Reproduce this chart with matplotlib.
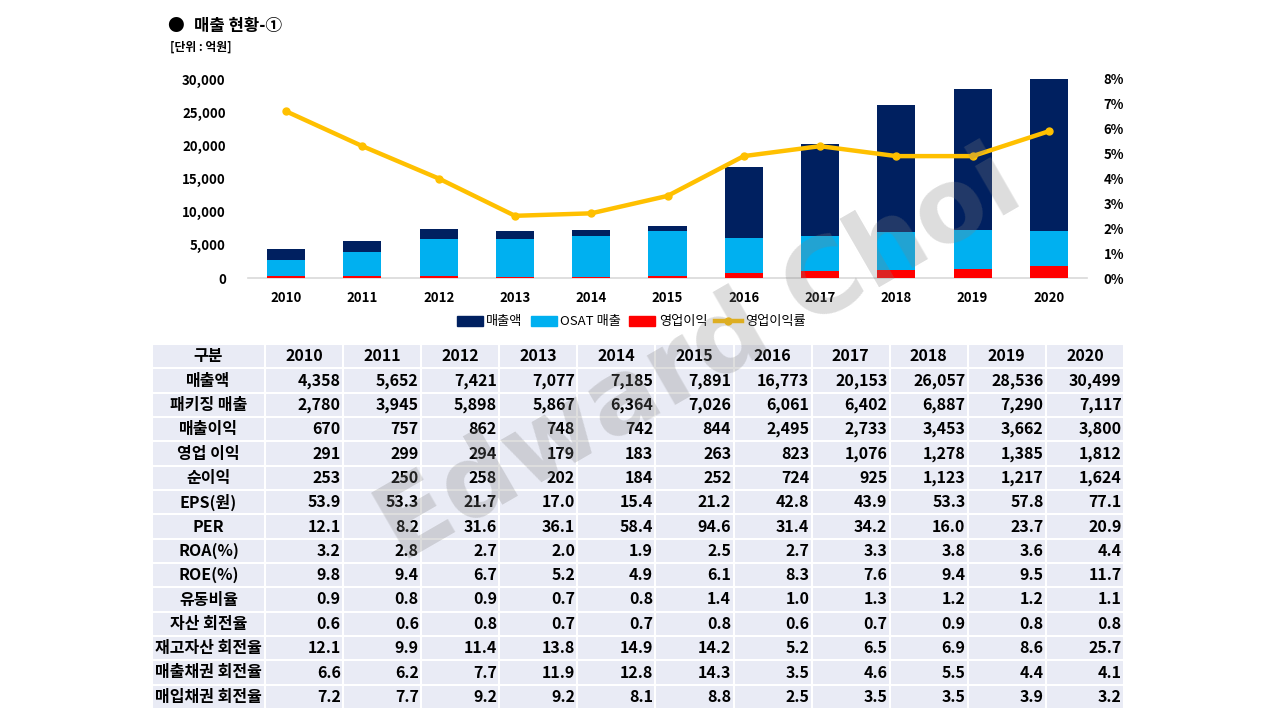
import matplotlib
matplotlib.use('Agg')
import matplotlib.pyplot as plt
from matplotlib.lines import Line2D
from matplotlib.patches import Patch
from matplotlib.ticker import FuncFormatter

plt.rcParams['font.family'] = ['Noto Sans CJK KR', 'DejaVu Sans']

years = ['2010', '2011', '2012', '2013', '2014', '2015', '2016', '2017', '2018', '2019', '2020']
sales = [4358, 5652, 7421, 7077, 7185, 7891, 16773, 20153, 26057, 28536, 30499]
osat_sales = [2780, 3945, 5898, 5867, 6364, 7026, 6061, 6402, 6887, 7290, 7117]
op_profit = [291, 299, 294, 179, 183, 263, 823, 1076, 1278, 1385, 1812]
op_margin = [6.7, 5.3, 4.0, 2.5, 2.6, 3.3, 4.9, 5.3, 4.9, 4.9, 5.9]

table_header = ['구분'] + years
row_labels = ['매출액', '패키징 매출', '매출이익', '영업 이익', '순이익', 'EPS(원)', 'PER',
              'ROA(%)', 'ROE(%)', '유동비율', '자산 회전율', '재고자산 회전율',
              '매출채권 회전율', '매입채권 회전율']
row_values = [
    ['4,358', '5,652', '7,421', '7,077', '7,185', '7,891', '16,773', '20,153', '26,057', '28,536', '30,499'],
    ['2,780', '3,945', '5,898', '5,867', '6,364', '7,026', '6,061', '6,402', '6,887', '7,290', '7,117'],
    ['670', '757', '862', '748', '742', '844', '2,495', '2,733', '3,453', '3,662', '3,800'],
    ['291', '299', '294', '179', '183', '263', '823', '1,076', '1,278', '1,385', '1,812'],
    ['253', '250', '258', '202', '184', '252', '724', '925', '1,123', '1,217', '1,624'],
    ['53.9', '53.3', '21.7', '17.0', '15.4', '21.2', '42.8', '43.9', '53.3', '57.8', '77.1'],
    ['12.1', '8.2', '31.6', '36.1', '58.4', '94.6', '31.4', '34.2', '16.0', '23.7', '20.9'],
    ['3.2', '2.8', '2.7', '2.0', '1.9', '2.5', '2.7', '3.3', '3.8', '3.6', '4.4'],
    ['9.8', '9.4', '6.7', '5.2', '4.9', '6.1', '8.3', '7.6', '9.4', '9.5', '11.7'],
    ['0.9', '0.8', '0.9', '0.7', '0.8', '1.4', '1.0', '1.3', '1.2', '1.2', '1.1'],
    ['0.6', '0.6', '0.8', '0.7', '0.7', '0.8', '0.6', '0.7', '0.9', '0.8', '0.8'],
    ['12.1', '9.9', '11.4', '13.8', '14.9', '14.2', '5.2', '6.5', '6.9', '8.6', '25.7'],
    ['6.6', '6.2', '7.7', '11.9', '12.8', '14.3', '3.5', '4.6', '5.5', '4.4', '4.1'],
    ['7.2', '7.7', '9.2', '9.2', '8.1', '8.8', '2.5', '3.5', '3.5', '3.9', '3.2'],
]

C_SALES = '#002060'
C_OSAT = '#00B0F0'
C_OP = '#FF0000'
C_LINE = '#FFC000'

W, H = 1280, 720
fig = plt.figure(figsize=(12.8, 7.2), dpi=100)

def fx(px):
    return px / W

def fy(py):
    return 1 - py / H

# ---- chart ----
ax = fig.add_axes([fx(248), fy(278), fx(1087 - 248), (278 - 79) / H])
x = list(range(len(years)))
bw = 0.5
ax.bar(x, sales, width=bw, color=C_SALES, zorder=2)
ax.bar(x, osat_sales, width=bw, color=C_OSAT, zorder=3)
ax.bar(x, op_profit, width=bw, color=C_OP, zorder=4)
ax.set_xlim(-0.5, len(years) - 0.5)
ax.set_ylim(0, 30000)
ax.set_yticks(range(0, 30001, 5000))
ax.yaxis.set_major_formatter(FuncFormatter(lambda v, p: f'{int(v):,}'))
ax.set_xticks(x)
ax.set_xticklabels(years)
for s in ['top', 'right', 'left']:
    ax.spines[s].set_visible(False)
ax.spines['bottom'].set_color('#D9D9D9')
ax.spines['bottom'].set_linewidth(1.2)
ax.tick_params(axis='both', length=0, labelsize=9.5)
ax.tick_params(axis='y', pad=16)
ax.tick_params(axis='x', pad=9)
for lbl in ax.get_xticklabels() + ax.get_yticklabels():
    lbl.set_fontweight('bold')

ax2 = ax.twinx()
ax2.plot(x, op_margin, color=C_LINE, lw=3.2, marker='o', ms=5, zorder=5)
ax2.set_ylim(0, 8)
ax2.set_yticks(range(0, 9))
ax2.yaxis.set_major_formatter(FuncFormatter(lambda v, p: f'{int(v)}%'))
for s in ['top', 'right', 'left', 'bottom']:
    ax2.spines[s].set_visible(False)
ax2.tick_params(axis='y', length=0, labelsize=9.5, pad=12)
for lbl in ax2.get_yticklabels():
    lbl.set_fontweight('bold')

handles = [Patch(color=C_SALES), Patch(color=C_OSAT), Patch(color=C_OP),
           Line2D([0], [0], color=C_LINE, lw=3.2, marker='o', ms=5)]
labels = ['매출액', 'OSAT 매출', '영업이익', '영업이익률']
fig.legend(handles, labels, loc='center', bbox_to_anchor=(fx(631), fy(322)), ncol=4,
           frameon=False, fontsize=9.5, handlelength=2.0, handleheight=0.7,
           columnspacing=0.6, handletextpad=0.25)

# ---- title ----
fig.text(fx(167), fy(26), '●', fontsize=12, fontweight='bold', va='center', ha='left')
fig.text(fx(194), fy(26), '매출 현황-①', fontsize=12, fontweight='bold', va='center', ha='left')
fig.text(fx(170), fy(47), '[단위 : 억원]', fontsize=8.5, fontweight='bold', va='center', ha='left')

# ---- table ----
axt = fig.add_axes([fx(152), fy(709), fx(1124 - 152), (709 - 344) / H])
axt.axis('off')
cell_text = [[lab] + vals for lab, vals in zip(row_labels, row_values)]
first_w = 113
other_w = (972 - first_w) / len(years)
col_widths = [first_w / 972] + [other_w / 972] * len(years)
tbl = axt.table(cellText=cell_text, colLabels=table_header, colWidths=col_widths,
                bbox=[0, 0, 1, 1], cellLoc='center')
tbl.auto_set_font_size(False)
tbl.set_fontsize(11.5)
for (r, c), cell in tbl.get_celld().items():
    cell.set_facecolor('#E9EBF5')
    cell.set_edgecolor('white')
    cell.set_linewidth(1.5)
    cell.get_text().set_fontweight('bold')
    if r > 0 and c > 0:
        cell._loc = 'right'
        cell.get_text().set_horizontalalignment('right')
        cell.PAD = 0.03

# ---- watermark ----
fig.text(fx(700), fy(358), 'Edward Choi', fontsize=74, fontweight='bold', color='#808080',
         alpha=0.27, rotation=30, ha='center', va='center', family='DejaVu Sans', zorder=10)

fig.savefig('out.png', dpi=100)
